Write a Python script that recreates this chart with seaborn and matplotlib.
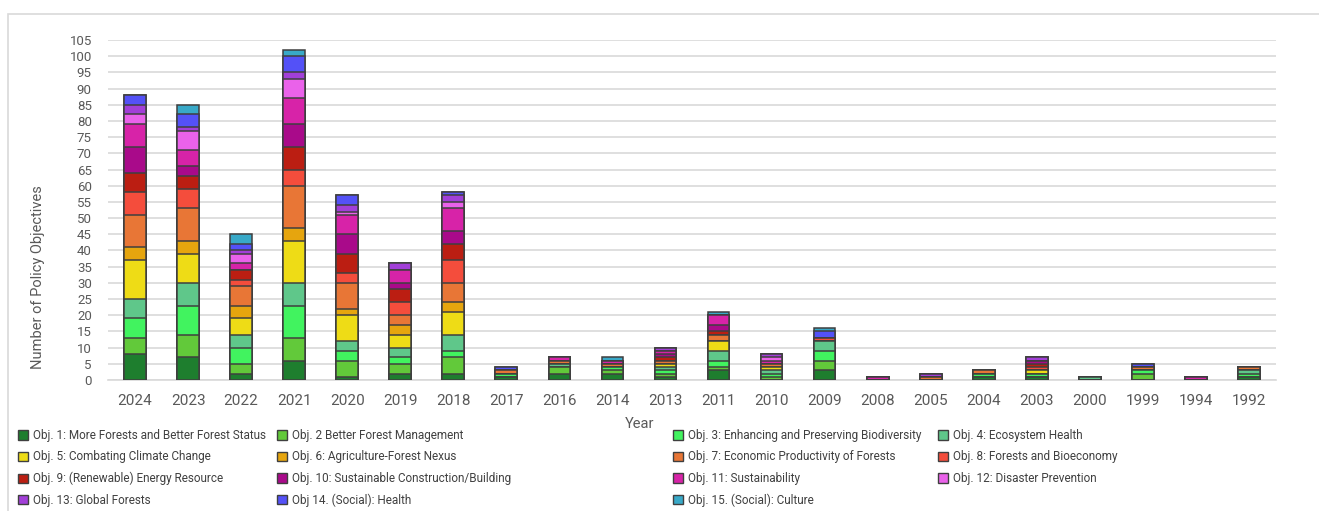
import matplotlib
matplotlib.use("Agg")
import matplotlib.pyplot as plt
from matplotlib.patches import Rectangle
from matplotlib import font_manager
import numpy as np
import pandas as pd
import seaborn as sns

years = ["2024", "2023", "2022", "2021", "2020", "2019", "2018", "2017", "2016", "2014",
         "2013", "2011", "2010", "2009", "2008", "2005", "2004", "2003", "2000", "1999",
         "1994", "1992"]

labels = [
    "Obj. 1: More Forests and Better Forest Status",
    "Obj. 2 Better Forest Management",
    "Obj. 3: Enhancing and Preserving Biodiversity",
    "Obj. 4: Ecosystem Health",
    "Obj. 5: Combating Climate Change",
    "Obj. 6: Agriculture-Forest Nexus",
    "Obj. 7: Economic Productivity of Forests",
    "Obj. 8: Forests and Bioeconomy",
    "Obj. 9: (Renewable) Energy Resource",
    "Obj. 10: Sustainable Construction/Building",
    "Obj. 11: Sustainability",
    "Obj. 12: Disaster Prevention",
    "Obj. 13: Global Forests",
    "Obj 14. (Social): Health",
    "Obj. 15. (Social): Culture",
]

colors = ["#1e7e2e", "#62c93a", "#41f35f", "#5fc78a", "#eedc16", "#e6a50e", "#e87636",
          "#f44d3c", "#bb1e12", "#a90a8a", "#d723a8", "#ea62ea", "#a23fd8", "#5451f7",
          "#38a9c8"]

#            24 23 22  21 20 19 18 17 16 14 13 11 10 09 08 05 04 03 00 99 94 92
obj1  = [8, 7, 2, 6, 1, 2, 2, 1, 2, 2, 1, 3, 0, 3, 0, 0, 1, 1, 0, 0, 0, 1]
obj2  = [5, 7, 3, 7, 5, 3, 5, 0, 2, 1, 1, 1, 1, 3, 0, 0, 0, 0, 0, 2, 0, 0]
obj3  = [6, 9, 5, 10, 3, 2, 2, 1, 0, 1, 1, 2, 1, 3, 0, 0, 1, 1, 0, 1, 0, 1]
obj4  = [6, 7, 4, 7, 3, 3, 5, 0, 1, 0, 1, 3, 1, 3, 0, 0, 0, 0, 1, 0, 0, 1]
obj5  = [12, 9, 5, 13, 8, 4, 7, 0, 0, 0, 1, 3, 1, 0, 0, 0, 0, 1, 0, 0, 0, 0]
obj6  = [4, 4, 4, 4, 2, 3, 3, 0, 0, 0, 0, 0, 0, 0, 0, 0, 0, 0, 0, 0, 0, 0]
obj7  = [10, 10, 6, 13, 8, 3, 6, 1, 1, 1, 1, 2, 1, 0, 0, 1, 1, 0, 0, 1, 0, 1]
obj8  = [7, 6, 2, 5, 3, 4, 7, 0, 0, 0, 0, 0, 0, 1, 0, 0, 0, 1, 0, 0, 0, 0]
obj9  = [6, 4, 3, 7, 6, 4, 5, 0, 0, 0, 1, 1, 0, 0, 0, 0, 0, 1, 0, 0, 0, 0]
obj10 = [8, 3, 0, 7, 6, 2, 4, 0, 0, 0, 1, 2, 0, 0, 0, 0, 0, 1, 0, 0, 0, 0]
obj11 = [7, 5, 2, 8, 6, 4, 7, 0, 1, 1, 1, 3, 1, 0, 1, 0, 0, 0, 0, 0, 1, 0]
obj12 = [3, 6, 3, 6, 1, 0, 2, 0, 0, 0, 0, 0, 1, 0, 0, 0, 0, 0, 0, 0, 0, 0]
obj13 = [3, 1, 1, 2, 2, 2, 2, 0, 0, 0, 1, 0, 1, 0, 0, 1, 0, 1, 0, 0, 0, 0]
obj14 = [3, 4, 2, 5, 3, 0, 1, 1, 0, 0, 0, 0, 0, 2, 0, 0, 0, 0, 0, 1, 0, 0]
obj15 = [0, 3, 3, 2, 0, 0, 0, 0, 0, 1, 0, 1, 0, 1, 0, 0, 0, 0, 0, 0, 0, 0]

series = [obj1, obj2, obj3, obj4, obj5, obj6, obj7, obj8, obj9, obj10, obj11, obj12,
          obj13, obj14, obj15]


def available(name):
    try:
        font_manager.findfont(font_manager.FontProperties(family=name),
                              fallback_to_default=False)
        return True
    except Exception:
        return False


if available("Liberation Sans Narrow"):
    FONT, LEG_FS = ["Liberation Sans Narrow", "DejaVu Sans"], 11
elif available("DejaVu Sans Condensed"):
    FONT, LEG_FS = ["DejaVu Sans Condensed", "DejaVu Sans"], 9.6
else:
    FONT, LEG_FS = ["Roboto", "DejaVu Sans"], 8.5

sns.set_theme(style="white")
plt.rcParams["font.family"] = FONT

fig = plt.figure(figsize=(13.19, 5.11), dpi=100)
W, H = 1319, 511
ax = fig.add_axes([108.5 / W, 1 - 380 / H, 1167 / W, 340 / H])

# outer chart border
fig.patches.append(Rectangle((8 / W, -0.1), 1.2, 1 - 14 / H + 0.1, transform=fig.transFigure,
                             fill=False, edgecolor="#d9d9d9", linewidth=1.2, zorder=0))

cum = np.cumsum(np.array(series), axis=0)
for i in range(len(series) - 1, -1, -1):
    df = pd.DataFrame({"Year": years, "Value": cum[i]})
    sns.barplot(data=df, x="Year", y="Value", order=years, color=colors[i],
                saturation=1, width=0.41, edgecolor="#3f3f3f", linewidth=1.1,
                errorbar=None, ax=ax, zorder=3)

ax.set_ylim(0, 105)
ax.set_xlim(-0.5, len(years) - 0.5)
ax.set_yticks(np.arange(0, 106, 5))
ax.yaxis.grid(True, color="#d9d9d9", linewidth=1.2, zorder=0)
ax.set_axisbelow(True)
for s in ["top", "right", "left"]:
    ax.spines[s].set_visible(False)
ax.spines["bottom"].set_color("#d9d9d9")
ax.spines["bottom"].set_linewidth(1.2)
ax.tick_params(axis="y", length=0, pad=12, labelsize=9.5, labelcolor="#595959")
ax.tick_params(axis="x", length=0, pad=10, labelsize=11, labelcolor="#595959")

ax.set_xlabel("Year", fontsize=10.5, color="#595959")
ax.xaxis.set_label_coords((640 - 108.5) / 1167, -(417 - 380) / 340)
ax.set_ylabel("Number of Policy Objectives", fontsize=10.5, color="#595959")
ax.yaxis.set_label_coords((45 - 108.5) / 1167, (380 - 277) / 340)

# legend: 4 columns read row-wise
col_x = [18, 277, 673, 938]
for c in range(4):
    idx = list(range(c, len(labels), 4))
    handles = [Rectangle((0, 0), 1, 1, facecolor=colors[k], edgecolor="#3f3f3f",
                         linewidth=1.0) for k in idx]
    leg = fig.legend(handles, [labels[k] for k in idx], loc="upper left",
                     bbox_to_anchor=(col_x[c] / W, 1 - 429 / H), frameon=False,
                     borderaxespad=0, borderpad=0, handlelength=0.85, handleheight=0.85,
                     handletextpad=0.4, labelspacing=0.58 * 10.5 / LEG_FS, fontsize=LEG_FS)
    for t in leg.get_texts():
        t.set_color("#404040")

fig.savefig("out.png", dpi=100)
